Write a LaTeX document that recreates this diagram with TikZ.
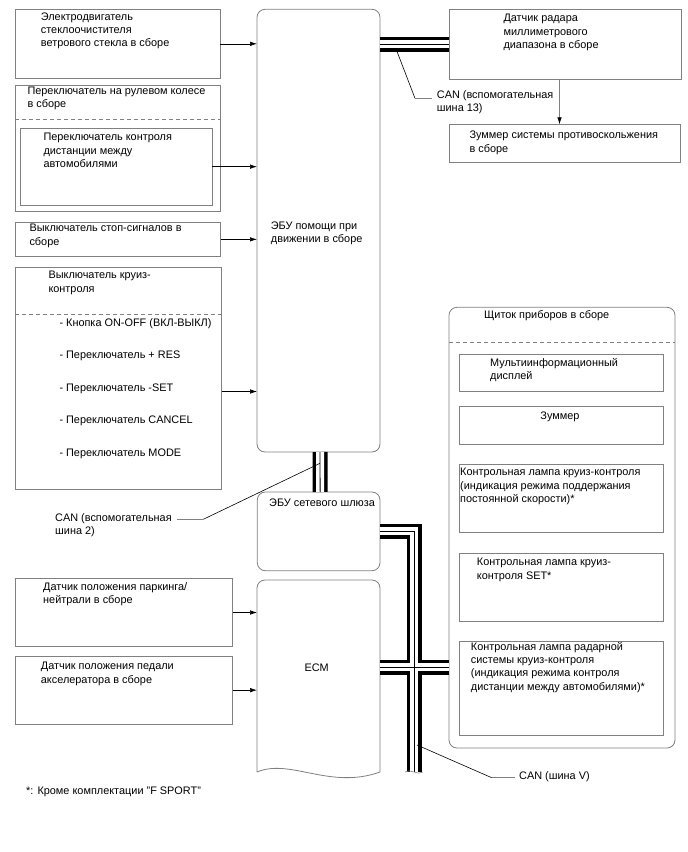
\documentclass[tikz,border=0pt]{standalone}
\usepackage{fontspec}
\setmainfont{Liberation Sans}
\usepackage{tikz}
\usetikzlibrary{arrows.meta}
\definecolor{boxgray}{gray}{0.5}

\begin{document}
\begin{tikzpicture}[x=1pt, y=-1pt,
  box/.style={draw=boxgray, line width=0.8pt, inner sep=0pt, outer sep=0pt,
              anchor=north west},
  rbox/.style={box, rounded corners=8pt},
  txt/.style={anchor=north west, inner sep=0pt, align=left,
              font=\fontsize{10.9}{13.3}\selectfont},
  dsh/.style={draw=boxgray, line width=0.8pt, dash pattern=on 4pt off 3pt},
  arr/.style={-{Latex[length=7pt,width=4.5pt]}, line width=0.6pt},
  arrg/.style={arr, draw=boxgray, -{Latex[length=7pt,width=4.5pt,color=black]}},
  lead/.style={line width=0.6pt},
  leadg/.style={draw=boxgray, line width=0.8pt},
  busout/.style={line width=15pt, line join=miter},
  busin/.style={draw=white, line width=8pt, line join=miter},
  busmid/.style={line width=0.8pt, line join=miter}
]
\useasboundingbox (0,0) rectangle (688,852);

% left column
\node[box, minimum width=205pt, minimum height=69pt] (wiper) at (15,9.3) {};
\node[box, minimum width=205pt, minimum height=126.7pt] (steer) at (15,85) {};
\node[box, minimum width=191.6pt, minimum height=76.7pt] (dist) at (20.7,128.3) {};
\node[box, minimum width=205.7pt, minimum height=33.3pt] (stop) at (15,222.7) {};
\node[box, minimum width=206.7pt, minimum height=221.6pt] (cruise) at (15,267.7) {};
\node[box, minimum width=217.7pt, minimum height=68.4pt] (park) at (15,578.3) {};
\node[box, minimum width=217.7pt, minimum height=68.3pt] (pedal) at (15,656) {};
\draw[dsh] ([yshift=-34pt]steer.north west) -- ([yshift=-34pt]steer.north east);
\draw[dsh] ([yshift=-46.3pt]cruise.north west) -- ([yshift=-46.3pt]cruise.north east);

% middle column
\node[rbox, minimum width=123pt, minimum height=442.7pt] (ecu) at (257,9.3) {};
\node[rbox, minimum width=122.7pt, minimum height=78.7pt] (gw) at (257.3,492) {};
\node[box, draw=none, minimum width=123pt, minimum height=192pt] (ecm) at (257,580) {};
\draw[draw=boxgray, line width=0.8pt, rounded corners=8pt]
  (ecm.south west) -- (ecm.north west) -- (ecm.north east) -- (ecm.south east);
\draw[draw=boxgray, line width=0.8pt]
  (ecm.south west) .. controls +(33,-14) and +(-50,18) .. (ecm.south east);

% right column
\node[box, minimum width=232.4pt, minimum height=69.7pt] (radar) at (449.3,9.3) {};
\node[box, minimum width=230.7pt, minimum height=38.4pt] (buzz) at (449.3,124.3) {};
\node[rbox, minimum width=226pt, minimum height=440.7pt] (cluster) at (449,307.3) {};
\draw[dsh] ([yshift=-35.4pt]cluster.north west) -- ([yshift=-35.4pt]cluster.north east);
\node[box, minimum width=204pt, minimum height=37.7pt] (mid) at (459,354) {};
\node[box, minimum width=204pt, minimum height=38pt] (cbuzz) at (459,406) {};
\node[box, minimum width=204pt, minimum height=68.7pt] (lamp1) at (459,464) {};
\node[box, minimum width=204pt, minimum height=68.7pt] (lamp2) at (459,553) {};
\node[box, minimum width=204pt, minimum height=93.3pt] (lamp3) at (459,641.7) {};

% texts
\node[txt] (wiperT) at (40.7,12.5) {Электродвигатель\\стеклоочистителя\\ветрового стекла в сборе};
\node[txt] (steerT) at (27.3,86.5) {Переключатель на рулевом колесе\\в сборе};
\node[txt] (distT) at (43.3,133) {Переключатель контроля\\дистанции между\\автомобилями};
\node[txt] (stopT) at (29.3,224) {Выключатель стоп-сигналов в\\сборе};
\node[txt] (cruiseT) at (48.3,271) {Выключатель круиз-\\контроля};
\foreach \t [count=\i] in {- Кнопка ON-OFF (ВКЛ-ВЫКЛ), - Переключатель + RES,
    - Переключатель -SET, - Переключатель CANCEL, - Переключатель MODE}
  \node[txt] (item\i) at (59.3,{318+32.6*(\i-1)}) {\t};
\node[txt] (parkT) at (43,582) {Датчик положения паркинга/\\нейтрали в сборе};
\node[txt] (pedalT) at (40.7,662) {Датчик положения педали\\акселератора в сборе};
\node[txt] (ecuT) at (270.7,221.5) {ЭБУ помощи при\\движении в сборе};
\node[txt] (gwT) at (269,499) {ЭБУ сетевого шлюза};
\node[txt, anchor=center] (ecmT) at (316.7,668) {ECM};
\node[txt] (radarT) at (503.3,14) {Датчик радара\\миллиметрового\\диапазона в сборе};
\node[txt] (buzzT) at (469.3,131) {Зуммер системы противоскольжения\\в сборе};
\node[txt] (clusterT) at (484,310) {Щиток приборов в сборе};
\node[txt] (midT) at (490,358) {Мультиинформационный\\дисплей};
\node[txt, anchor=north] (cbuzzT) at (560,412) {Зуммер};
\node[txt] (lamp1T) at (460,468) {Контрольная лампа круиз-контроля\\(индикация режима поддержания\\постоянной скорости)*};
\node[txt] (lamp2T) at (476.7,558) {Контрольная лампа круиз-\\контроля SET*};
\node[txt] (lamp3T) at (470.7,642) {Контрольная лампа радарной\\системы круиз-контроля\\(индикация режима контроля\\дистанции между автомобилями)*};
\node[txt] (can13T) at (436.7,90) {CAN (вспомогательная\\шина 13)};
\node[txt] (can2T) at (55,513) {CAN (вспомогательная\\шина 2)};
\node[txt] (canVT) at (519,771) {CAN (шина V)};
\node[txt] (noteT) at (26,787) {*: Кроме комплектации "F SPORT"};

% signal arrows
\draw[arr] (wiper.east) -- (wiper.east -| ecu.west);
\draw[arr] (dist.east) -- (dist.east -| ecu.west);
\draw[arr] (stop.east) -- (stop.east -| ecu.west);
\draw[arr] ([yshift=-13pt]cruise.east) -- ([yshift=-13pt]cruise.east -| ecu.west);
\draw[arr] (park.east) -- (park.east -| ecm.west);
\draw[arr] (pedal.east) -- (pedal.east -| ecm.west);
\draw[arrg] ([xshift=-6pt]radar.south) -- ([xshift=-6pt]radar.south |- buzz.north);

% CAN buses
\coordinate (vend) at (414,772);
\coordinate (vx) at (414,667);
\foreach \s in {busout,busin,busmid}{
  \draw[\s] (ecu.east |- radar.west) -- (radar.west);
  \draw[\s] ([xshift=1.5pt]ecu.south) -- ([xshift=1.5pt]gw.north);
  \draw[\s] (gw.east) -| (vend);
  \draw[\s] (ecm.east |- vx) -- (cluster.west |- vx);
}
\draw[draw=boxgray, line width=0.6pt] ([xshift=-9pt]vend) .. controls +(5,-4) and +(-5,4) .. ([xshift=9pt]vend);

% bus labels
\coordinate (l13a) at (396.7,50.7);
\coordinate (l13b) at (415,98.3);
\draw[lead] (l13a) -- (l13b);
\draw[leadg, shorten >=5pt] (l13b) -- (l13b -| can13T.west);
\coordinate (l2a) at (320,463.3);
\coordinate (l2b) at (203.3,519.3);
\draw[lead] (l2a) -- (l2b);
\draw[leadg, shorten >=5pt] (l2b) -- (l2b -| can2T.east);
\coordinate (lva) at (417,745);
\coordinate (lvb) at (491.7,777.7);
\draw[lead] (lva) -- (lvb);
\draw[leadg, shorten >=4pt] (lvb) -- (lvb -| canVT.west);
\end{tikzpicture}
\end{document}
